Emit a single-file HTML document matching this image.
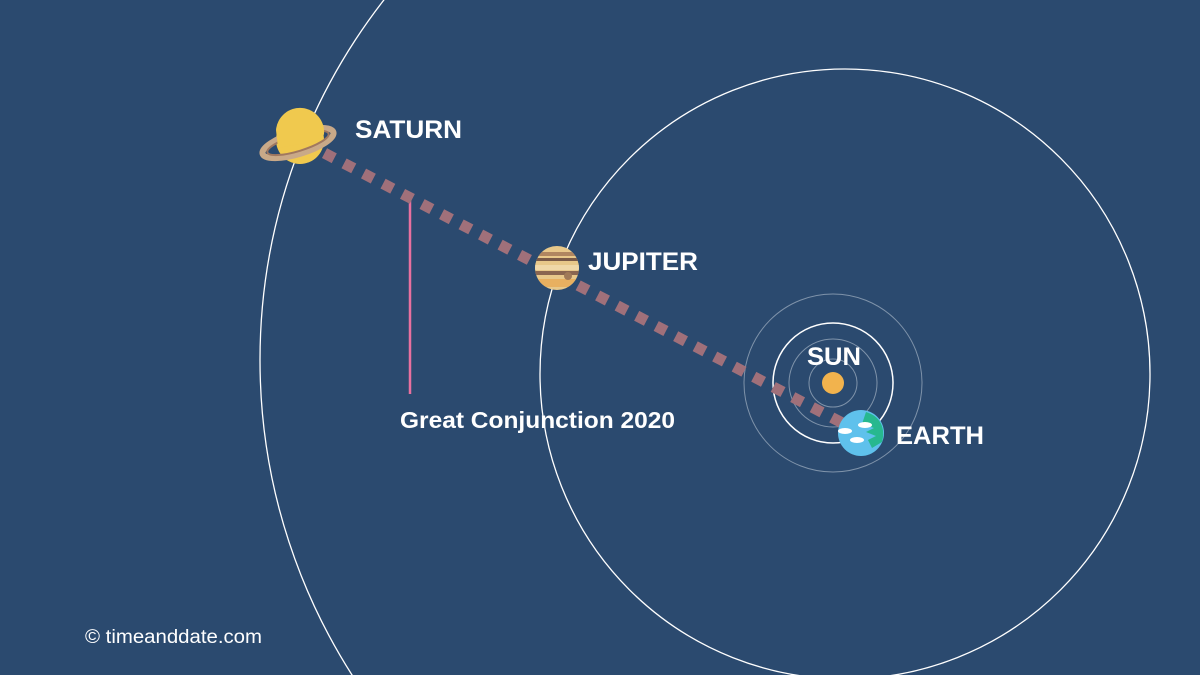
<!DOCTYPE html>
<html><head><meta charset="utf-8"><style>
html,body{margin:0;padding:0;background:#2b4a6f;width:1200px;height:675px;overflow:hidden;}
svg{display:block}
text{font-family:"Liberation Sans",sans-serif;fill:#fff}
</style></head><body>
<svg width="1200" height="675" viewBox="0 0 1200 675">
<rect width="1200" height="675" fill="#2b4a6f"/>
<circle cx="845" cy="360" r="585" fill="none" stroke="#fff" stroke-width="1.3"/>
<circle cx="845" cy="374" r="305" fill="none" stroke="#fff" stroke-width="1.3"/>
<g fill="none" stroke="#7f93aa" stroke-width="1">
<circle cx="833" cy="383" r="24"/><circle cx="833" cy="383" r="44"/><circle cx="833" cy="383" r="89"/>
</g>
<circle cx="833" cy="383" r="60" fill="none" stroke="#fff" stroke-width="1.5"/>
<circle cx="833" cy="383" r="11" fill="#f2b34d"/>
<line x1="410" y1="197" x2="410" y2="394" stroke="#e8709f" stroke-width="2.5"/>
<line x1="305" y1="143" x2="852" y2="428" stroke="#a0707a" stroke-width="11" stroke-dasharray="11 11"/>
<g>
<circle cx="300" cy="140" r="24" fill="#f0c94e"/>
<ellipse cx="298" cy="143" rx="37" ry="11" transform="rotate(-17 298 143)" fill="none" stroke="#c9a988" stroke-width="6"/>
<ellipse cx="298" cy="143" rx="32" ry="8" transform="rotate(-17 298 143)" fill="none" stroke="#a07860" stroke-width="2"/>
<path d="M276,130 A24,24 0 0 1 324,134 L322,140 L278,148 Z" fill="#f0c94e"/>
</g>
<g>
<clipPath id="jc"><circle cx="557" cy="268" r="22"/></clipPath>
<g clip-path="url(#jc)">
<rect x="530" y="244" width="60" height="50" fill="#e8c88a"/>
<rect x="530" y="252" width="60" height="4" fill="#b08660"/>
<rect x="530" y="258" width="60" height="3" fill="#7a5a48"/>
<rect x="530" y="265" width="60" height="5" fill="#f0d8a8"/>
<rect x="530" y="271" width="60" height="4" fill="#8a6650"/>
<rect x="530" y="279" width="60" height="8" fill="#e8b060"/>
<circle cx="568" cy="276" r="4" fill="#a07a58"/>
</g></g>
<g>
<circle cx="861" cy="433" r="23" fill="#5fc1ec"/>
<path d="M866,412 C880,416 886,428 882,442 L872,448 L868,440 L876,436 L866,432 L874,428 L862,424 Z" fill="#27b88f"/>
<ellipse cx="865" cy="425" rx="7" ry="3" fill="#fff"/><ellipse cx="845" cy="431" rx="7" ry="3" fill="#fff"/><ellipse cx="857" cy="440" rx="7" ry="3" fill="#fff"/>
</g>
<text x="355" y="138" font-size="25" font-weight="bold" textLength="107" lengthAdjust="spacingAndGlyphs">SATURN</text>
<text x="588" y="270" font-size="25" font-weight="bold" textLength="110" lengthAdjust="spacingAndGlyphs">JUPITER</text>
<text x="807" y="365" font-size="25" font-weight="bold" textLength="54" lengthAdjust="spacingAndGlyphs">SUN</text>
<text x="896" y="444" font-size="25" font-weight="bold" textLength="88" lengthAdjust="spacingAndGlyphs">EARTH</text>
<text x="400" y="428" font-size="23" font-weight="bold" textLength="275" lengthAdjust="spacingAndGlyphs">Great Conjunction 2020</text>
<text x="85" y="643" font-size="19" textLength="177" lengthAdjust="spacingAndGlyphs">© timeanddate.com</text>
</svg>
</body></html>
